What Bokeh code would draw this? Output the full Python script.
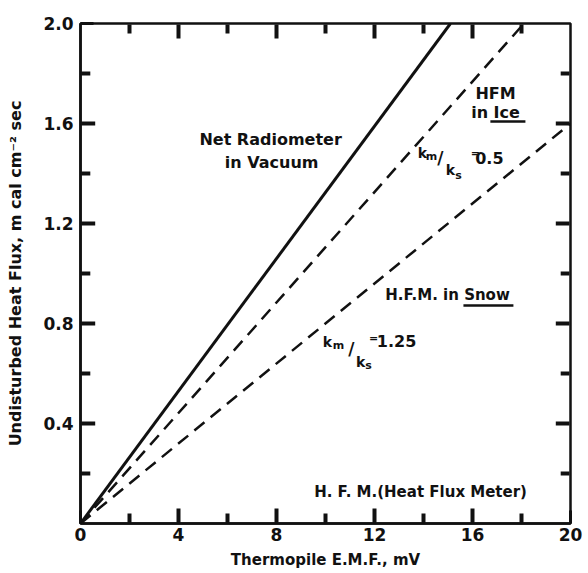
from bokeh.plotting import figure
from bokeh.models import FixedTicker, Range1d, Label, PrintfTickFormatter
from bokeh.embed import file_html
from bokeh.resources import INLINE

# ---- data ----
emf_net = [0, 15.1]
flux_net = [0, 2.0]
emf_ice = [0, 18.1]
flux_ice = [0, 2.0]
emf_snow = [0, 20]
flux_snow = [0, 1.6]
x_ticks = [0, 4, 8, 12, 16, 20]
x_minor = [2, 6, 10, 14, 18]
y_ticks = [0.4, 0.8, 1.2, 1.6, 2.0]
y_minor = [0.2, 0.6, 1.0, 1.4, 1.8]

FONT = "DejaVu Sans"
INK = "#111111"
X0, X1, Y0, Y1 = 0, 20, 0, 2.0

p = figure(width=588, height=573, output_backend="svg", toolbar_location=None,
           x_range=Range1d(X0, X1), y_range=Range1d(Y0, Y1),
           min_border_left=80, min_border_right=18, min_border_top=23, min_border_bottom=50,
           x_axis_label="Thermopile E.M.F., mV",
           y_axis_label="Undisturbed Heat Flux, m cal cm\u207b\u00b2 sec")
p.grid.visible = False
p.outline_line_color = INK
p.outline_line_width = 2.5
p.background_fill_color = "white"
p.border_fill_color = "white"

for ax, ticks, minor in ((p.xaxis[0], x_ticks, x_minor), (p.yaxis[0], y_ticks, y_minor)):
    ax.ticker = FixedTicker(ticks=ticks, minor_ticks=minor)
    ax.axis_line_color = INK
    ax.axis_line_width = 2.5
    ax.major_tick_line_color = INK
    ax.minor_tick_line_color = INK
    ax.major_tick_line_width = 3
    ax.minor_tick_line_width = 3
    ax.major_tick_in = 13
    ax.minor_tick_in = 8
    ax.major_tick_out = 0
    ax.minor_tick_out = 0
    ax.major_label_text_font = FONT
    ax.major_label_text_font_style = "bold"
    ax.major_label_text_font_size = "17px"
    ax.major_label_text_color = INK
    ax.axis_label_text_font = FONT
    ax.axis_label_text_font_style = "bold"
    ax.axis_label_text_color = INK

xa = p.xaxis[0]
xa.axis_label_text_font_size = "15px"
xa.major_label_standoff = 4
xa.axis_label_standoff = 7
ya = p.yaxis[0]
ya.formatter = PrintfTickFormatter(format="%.1f")
ya.axis_label_text_font_size = "16px"
ya.major_label_standoff = 7
ya.axis_label_standoff = 15

# ---- curves ----
p.line(emf_net, flux_net, line_color=INK, line_width=3)
p.line(emf_ice, flux_ice, line_color=INK, line_width=2.5, line_dash="13 8")
p.line(emf_snow, flux_snow, line_color=INK, line_width=2.5, line_dash="13 8")

# ---- inward ticks on all four sides, slightly inset from the frame edge ----
MAJ_Y, MIN_Y = 0.06, 0.04    # tick length along y (data units)
MAJ_X, MIN_X = 0.6, 0.4      # tick length along x (data units)
IN_Y, IN_X = 0.004, 0.04     # small inset from the edge
xt = x_ticks[1:-1]
yt = y_ticks[:-1]
tx0, ty0, tx1, ty1 = [], [], [], []
for xs, ln in ((xt, MAJ_Y), (x_minor, MIN_Y)):
    for v in xs:
        tx0 += [v, v]; tx1 += [v, v]
        ty0 += [Y0 + IN_Y, Y1 - IN_Y]; ty1 += [Y0 + ln, Y1 - ln]
for ys, ln in ((yt, MAJ_X), (y_minor, MIN_X)):
    for v in ys:
        ty0 += [v, v]; ty1 += [v, v]
        tx0 += [X0 + IN_X, X1 - IN_X]; tx1 += [X0 + ln, X1 - ln]
p.segment(x0=tx0, y0=ty0, x1=tx1, y1=ty1, line_color=INK, line_width=4)

def lab(x, y, text, size=16, align="center"):
    p.add_layout(Label(x=x, y=y, text=text, text_font=FONT, text_font_style="bold",
                       text_font_size=f"{size}px", text_color=INK,
                       text_align=align, text_baseline="middle"))

lab(7.76, 1.536, "Net Radiometer")
lab(7.80, 1.444, "in Vacuum")
lab(16.94, 1.72, "HFM")
lab(16.94, 1.644, "in Ice")
lab(14.98, 0.916, "H.F.M. in Snow", 15)
lab(13.88, 0.128, "H. F. M.(Heat Flux Meter)", 15)

# k_m/k_s = 0.5
lab(13.96, 1.484, "k", 14)
lab(14.33, 1.468, "m", 11)
lab(14.69, 1.464, "/", 17)
lab(15.10, 1.416, "k", 14)
lab(15.43, 1.392, "s", 11)
lab(16.12, 1.48, "=", 11)
lab(16.69, 1.464, "0.5", 16)

# k_m/k_s = 1.25
lab(10.08, 0.728, "k", 14)
lab(10.53, 0.712, "m", 11)
lab(11.06, 0.700, "/", 17)
lab(11.43, 0.648, "k", 14)
lab(11.76, 0.632, "s", 11)
lab(11.96, 0.740, "=", 11)
lab(12.90, 0.732, "1.25", 16)

# underlines for "Ice" and "Snow"
p.segment(x0=[16.73, 15.63], y0=[1.608, 0.872], x1=[18.16, 17.67], y1=[1.608, 0.872],
          line_color=INK, line_width=2.5)

open("out.html", "w").write(file_html(p, INLINE))
